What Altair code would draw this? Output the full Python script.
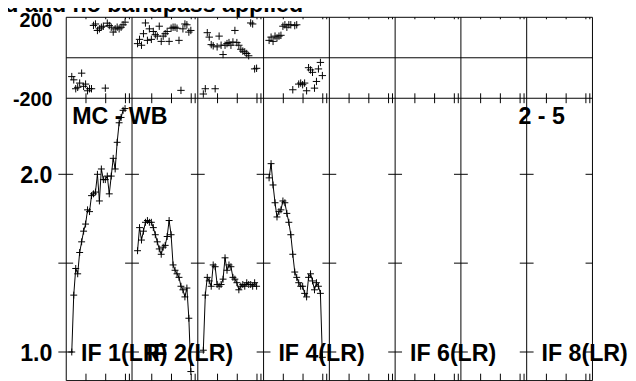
import altair as alt
import pandas as pd

# ---------------- data ----------------
TITLE = "ed and no bandpass applied"
BASELINE = "MC - WB"
BASELINE_NO = "2 - 5"
N_IF = 8
CHANNELS = list(range(1, 29))

AMP_IF1 = [1.00, 1.32, 1.47, 1.44, 1.56, 1.62, 1.68, 1.72, 1.80, 1.79, 1.88, 1.89, 1.90, 2.00,
           1.85, 2.03, 1.97, 1.97, 1.99, 1.89, 1.99, 2.09, 2.03, 2.18, 2.29, 2.32, 2.36, 2.37]
AMP_IF2 = [1.57, 1.70, 1.63, 1.68, 1.73, 1.74, 1.73, 1.73, 1.70, 1.66, 1.62, 1.58, 1.55, 1.59,
           1.60, 1.65, 1.74, 1.66, 1.49, 1.46, 1.44, 1.42, 1.37, 1.35, 1.31, 1.36, 1.19, 0.89]
AMP_IF3 = [1.01, 1.32, 1.42, 1.40, 1.37, 1.49, 1.48, 1.38, 1.37, 1.38, 1.41, 1.53, 1.46, 1.49,
           1.48, 1.42, 1.41, 1.39, 1.35, 1.37, 1.38, 1.37, 1.39, 1.38, 1.38, 1.37, 1.39, 1.37]
AMP_IF4 = [1.98, 2.06, 1.94, 1.84, 1.76, 1.79, 1.80, 1.85, 1.84, 1.78, 1.73, 1.66, 1.55, 1.45,
           1.42, 1.39, 1.37, 1.37, 1.33, 1.31, 1.42, 1.44, 1.40, 1.35, 1.39, 1.37, 1.33, 0.97]

PHASE_IF1 = [-93, -109, -153, -146, -125, -76, -141, -130, -163, -153, -153, 160, 167, 135,
             143, 151, 156, -150, 171, 159, 151, 127, 143, 151, 143, 151, 163, 176]
PHASE_IF2 = [70, 91, 62, 119, 172, 86, 143, 91, 130, 114, 107, 156, 81, 107,
             119, 130, 81, 146, 151, 151, 146, 86, -161, 143, 167, 163, 127, 135]
PHASE_IF3 = [-179, -153, 124, 102, 65, 59, -153, 54, 107, 62, 16, 62, 70, 75,
             62, 78, 135, 75, 62, 42, 33, 29, 21, 10, 172, 167, -55, -52]
PHASE_IF4 = [86, 102, 81, 107, 98, 107, 111, 156, 163, 151, 163, 163, -158, 159,
             163, -130, -125, -133, -125, -163, -49, -60, -72, -150, -117, -55, -23, -88]

IF_LABELS = ["IF 1(LR)", "IF 2(LR)", "IF 4(LR)", "IF 6(LR)", "IF 8(LR)"]
IF_LABEL_NUM = [1, 2, 4, 6, 8]
AMP_TICKS = [1.0, 1.5, 2.0]
AMP_LABEL_VALUES = [1.0, 2.0]
AMP_LABEL_TEXT = ["1.0", "2.0"]
PHASE_LABEL_VALUES = [200, -200]
PHASE_LABEL_TEXT = ["200", "-200"]
CHAN_TICKS = [10, 20, 30, 32]   # position of small channel ticks inside an IF box

# ---------------- geometry helpers ----------------
SPAN = 100.0 / 3.0        # channel units per IF box
CH_SHIFT = 1.8            # first channel offset inside a box
TOTAL = N_IF * SPAN
W, H = 533, 368
PH_H = 82

amps = [AMP_IF1, AMP_IF2, AMP_IF3, AMP_IF4]
phases = [PHASE_IF1, PHASE_IF2, PHASE_IF3, PHASE_IF4]
rows = []
for i, (a, p) in enumerate(zip(amps, phases)):
    for ch, av, pv in zip(CHANNELS, a, p):
        rows.append({"ifn": i + 1, "ch": ch, "amp": av, "phase": pv,
                     "x": i * SPAN + ch + CH_SHIFT})
df = pd.DataFrame(rows)

bounds = pd.DataFrame({"x": [b * SPAN for b in range(N_IF + 1)]})
tick_rows = []
for b in range(N_IF + 1):
    for t in AMP_TICKS:
        tick_rows.append({"x": b * SPAN - 3.5 if b > 0 else -4,
                          "x2": min(b * SPAN + 3.5, TOTAL), "v": t})
amp_ticks = pd.DataFrame(tick_rows)
chan_ticks = pd.DataFrame({"x": [c * SPAN + t for c in range(N_IF) for t in CHAN_TICKS]})
if_lab = pd.DataFrame({"x": [(n - 1) * SPAN for n in IF_LABEL_NUM], "t": IF_LABELS,
                       "v": [1.0] * len(IF_LABELS)})
amp_lab = pd.DataFrame({"v": AMP_LABEL_VALUES, "t": AMP_LABEL_TEXT})
ph_lab = pd.DataFrame({"v": PHASE_LABEL_VALUES, "t": PHASE_LABEL_TEXT})

XS = alt.Scale(domain=[0, TOTAL], nice=False, zero=False)
Y_AMP = alt.Scale(domain=[0.839, 2.428], range=[H, PH_H], nice=False, zero=False)
Y_PH = alt.Scale(domain=[-200, 200], range=[PH_H, 0], nice=False, zero=False)
FONT = "Liberation Sans"
BLACK = "#000000"
PLUS = "M-1,0H1M0,-1V1"
FS = 23.5

def X(f="x"):
    return alt.X(f"{f}:Q", scale=XS, axis=None)

vlines = alt.Chart(bounds).mark_rule(color=BLACK, strokeWidth=1).encode(
    x=X(), y=alt.value(0), y2=alt.value(H))

hl_df = pd.DataFrame({"y": [0.0]})
top_line = alt.Chart(hl_df).mark_rule(color=BLACK, strokeWidth=1).encode(
    x=alt.value(0), x2=alt.value(W), y=alt.value(0))
zero_line = alt.Chart(hl_df).mark_rule(color=BLACK, strokeWidth=1).encode(
    x=alt.value(0), x2=alt.value(W), y=alt.Y("y:Q", scale=Y_PH, axis=None))
mid_line = alt.Chart(hl_df).mark_rule(color=BLACK, strokeWidth=1).encode(
    x=alt.value(0), x2=alt.value(W), y=alt.value(PH_H))
bot_line = alt.Chart(hl_df).mark_rule(color=BLACK, strokeWidth=1).encode(
    x=alt.value(0), x2=alt.value(W), y=alt.value(H))

aticks = alt.Chart(amp_ticks).mark_rule(color=BLACK, strokeWidth=1).encode(
    x=X(), x2="x2:Q", y=alt.Y("v:Q", scale=Y_AMP, axis=None))
cticks_mid = alt.Chart(chan_ticks).mark_rule(color=BLACK, strokeWidth=1).encode(
    x=X(), y=alt.value(PH_H - 5), y2=alt.value(PH_H + 5))
cticks_bot = alt.Chart(chan_ticks).mark_rule(color=BLACK, strokeWidth=1).encode(
    x=X(), y=alt.value(H - 7), y2=alt.value(H))
cticks_top = alt.Chart(chan_ticks).mark_rule(color=BLACK, strokeWidth=1).encode(
    x=X(), y=alt.value(0), y2=alt.value(2))

amp_line = alt.Chart(df).mark_line(color=BLACK, strokeWidth=1).encode(
    x=X(), y=alt.Y("amp:Q", scale=Y_AMP, axis=None), detail="ifn:N", order="ch:Q")
amp_pts = alt.Chart(df).mark_point(shape=PLUS, size=49, filled=False, color=BLACK,
                                   strokeWidth=1, opacity=1).encode(
    x=X(), y=alt.Y("amp:Q", scale=Y_AMP, axis=None))
ph_pts = alt.Chart(df).mark_point(shape=PLUS, size=56, filled=False, color=BLACK,
                                  strokeWidth=1, opacity=1).encode(
    x=X(), y=alt.Y("phase:Q", scale=Y_PH, axis=None))

txt = dict(font=FONT, fontWeight="bold", color=BLACK)
amp_labels = alt.Chart(amp_lab).mark_text(align="right", baseline="middle", fontSize=FS,
                                          dy=2, **txt).encode(
    x=alt.value(-14), y=alt.Y("v:Q", scale=Y_AMP, axis=None), text="t:N")
ph_top = alt.Chart(ph_lab.iloc[[0]]).mark_text(align="right", baseline="middle", fontSize=20,
                                              dy=4, **txt).encode(
    x=alt.value(-14), y=alt.Y("v:Q", scale=Y_PH, axis=None), text="t:N")
ph_bot = alt.Chart(ph_lab.iloc[[1]]).mark_text(align="right", baseline="middle", fontSize=20,
                                              dy=2, **txt).encode(
    x=alt.value(-14), y=alt.Y("v:Q", scale=Y_PH, axis=None), text="t:N")
if_labels = alt.Chart(if_lab).mark_text(align="left", baseline="middle", fontSize=FS,
                                        dx=15, dy=2, **txt).encode(
    x=X(), y=alt.Y("v:Q", scale=Y_AMP, axis=None), text="t:N")

ann = pd.DataFrame({"t": [BASELINE]})
bl = alt.Chart(ann).mark_text(align="left", baseline="middle", fontSize=FS, **txt).encode(
    x=alt.value(6), y=alt.value(101.5), text="t:N")
ann2 = pd.DataFrame({"t": [BASELINE_NO]})
bl2 = alt.Chart(ann2).mark_text(align="left", baseline="middle", fontSize=FS, **txt).encode(
    x=alt.value(458), y=alt.value(101.5), text="t:N")
ann3 = pd.DataFrame({"t": [TITLE]})
title = alt.Chart(ann3).mark_text(align="right", baseline="alphabetic", fontSize=FS, **txt).encode(
    x=alt.value(240), y=alt.value(-5), text="t:N")

chart = alt.layer(
    vlines, top_line, zero_line, mid_line, bot_line, aticks, cticks_mid, cticks_bot, cticks_top,
    amp_line, amp_pts, ph_pts, amp_labels, ph_top, ph_bot, if_labels, bl, bl2, title
).resolve_scale(y="independent").properties(
    width=W, height=H,
    autosize=alt.AutoSizeParams(type="none"),
    padding={"left": 59, "top": 7, "right": 36, "bottom": 0},
).configure_view(stroke=None)

chart.save("out.html", embed_options={"renderer": "svg", "actions": False})
